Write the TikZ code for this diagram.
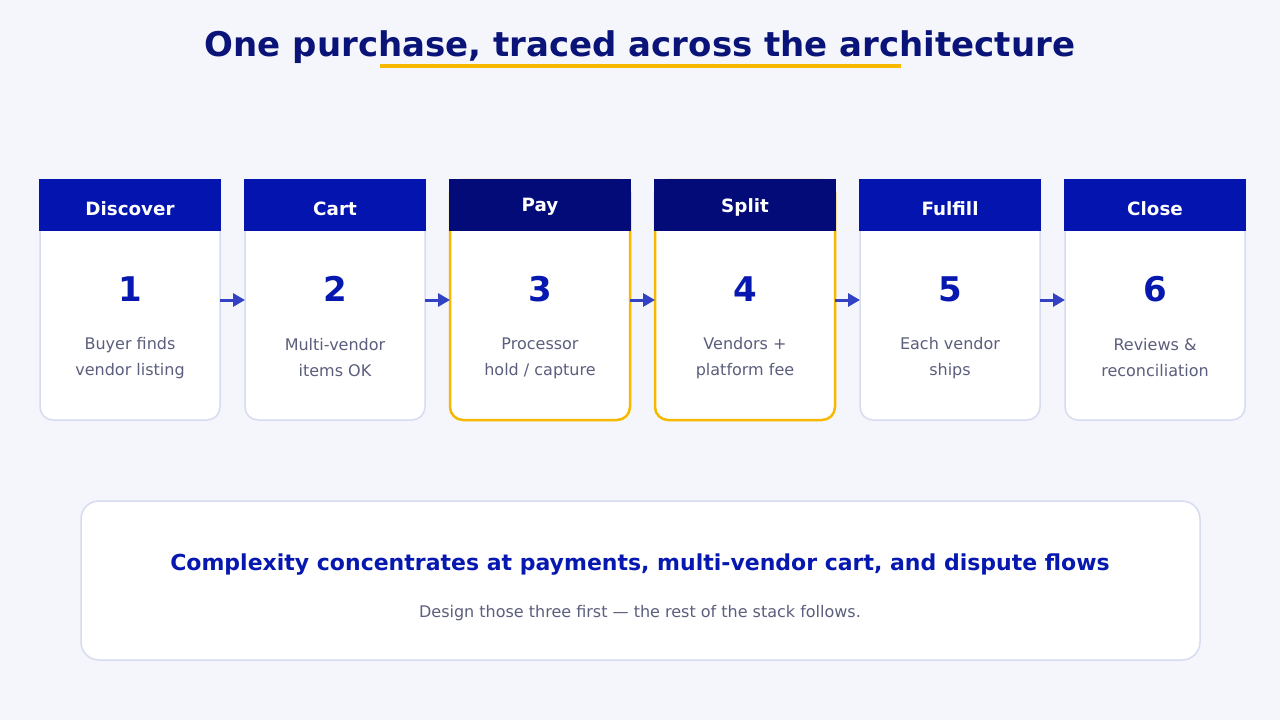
\documentclass[tikz,border=0pt]{standalone}
\usepackage{fontspec}
\setmainfont{DejaVu Sans}
\usetikzlibrary{positioning,arrows.meta}

\definecolor{pagebg}{HTML}{F5F6FB}
\definecolor{titlenavy}{HTML}{0A1478}
\definecolor{headblue}{HTML}{0414AE}
\definecolor{headnavy}{HTML}{020B78}
\definecolor{numblue}{HTML}{0718B0}
\definecolor{textgray}{HTML}{5B5E7C}
\definecolor{edgegray}{HTML}{D6DBF0}
\definecolor{gold}{HTML}{F7B900}
\definecolor{flowblue}{HTML}{3342C4}

\tikzset{
  card/.style={draw=edgegray,line width=1.5pt,fill=white,rounded corners=13pt,
    minimum width=180pt,minimum height=240pt,outer sep=0pt,inner sep=0pt},
  hotcard/.style={card,draw=gold,line width=2.5pt},
  cardhead/.style={minimum width=180pt,minimum height=51pt,inner sep=0pt,
    text=white,font=\fontsize{18.3}{21}\selectfont\bfseries},
  num/.style={text=numblue,font=\fontsize{34}{40}\selectfont\bfseries},
  desc/.style={text=textgray,align=center,font=\fontsize{16}{26}\selectfont},
  flow/.style={draw=flowblue,line width=3pt,-{Triangle[length=12pt,width=13pt]}},
}

\begin{document}
\begin{tikzpicture}[x=1pt,y=-1pt]
	%page
	\useasboundingbox[fill=pagebg] (0,0) rectangle (1280,720);
	
	%title
	\node[text=titlenavy,font=\fontsize{34}{40}\selectfont\bfseries] (title) at (640,47) {One purchase, traced across the architecture};
	\draw[gold,line width=4pt] (380,66) -- (901,66); %underline
	
	%cards
	\foreach \i/\head/\lineA/\lineB/\sty/\hcol/\hy in {
	  1/Discover/Buyer finds/vendor listing/card/headblue/209,
	  2/Cart/Multi-vendor/items OK/card/headblue/209,
	  3/Pay/Processor/{hold / capture}/hotcard/headnavy/207,
	  4/Split/Vendors +/platform fee/hotcard/headnavy/207,
	  5/Fulfill/Each vendor/ships/card/headblue/209,
	  6/Close/Reviews \&/reconciliation/card/headblue/209}
	{
	  \pgfmathsetmacro{\cx}{130+(\i-1)*205}
	  \node[\sty] (card\i) at (\cx,300) {};
	  \fill[\hcol] ([shift={(-1.25,-1.25)}]card\i.north west) rectangle ++(182.5,52.25);
	  \node[cardhead] (head\i) at (\cx,\hy) {\head};
	  \node[num] (num\i) at (\cx,289) {\i};
	  \node[desc] (desc\i) at (\cx,358) {\lineA\\\lineB};
	}
	
	%arrows
	\foreach \i [evaluate=\i as \j using int(\i+1)] in {1,...,5}
	  \draw[flow] (card\i.east) -- (card\j.west);
	
	%takeaway box
	\node[draw=edgegray,line width=1.5pt,fill=white,rounded corners=18pt,
	  minimum width=1119pt,minimum height=159pt] (note) at (640.5,580.5) {};
	\node[text=numblue,font=\fontsize{22}{26}\selectfont\bfseries] (notehead) at (640,565) {Complexity concentrates at payments, multi-vendor cart, and dispute flows};
	\node[text=textgray,font=\fontsize{16}{19}\selectfont] (notesub) at (640,613) {Design those three first — the rest of the stack follows.};
\end{tikzpicture}
\end{document}
